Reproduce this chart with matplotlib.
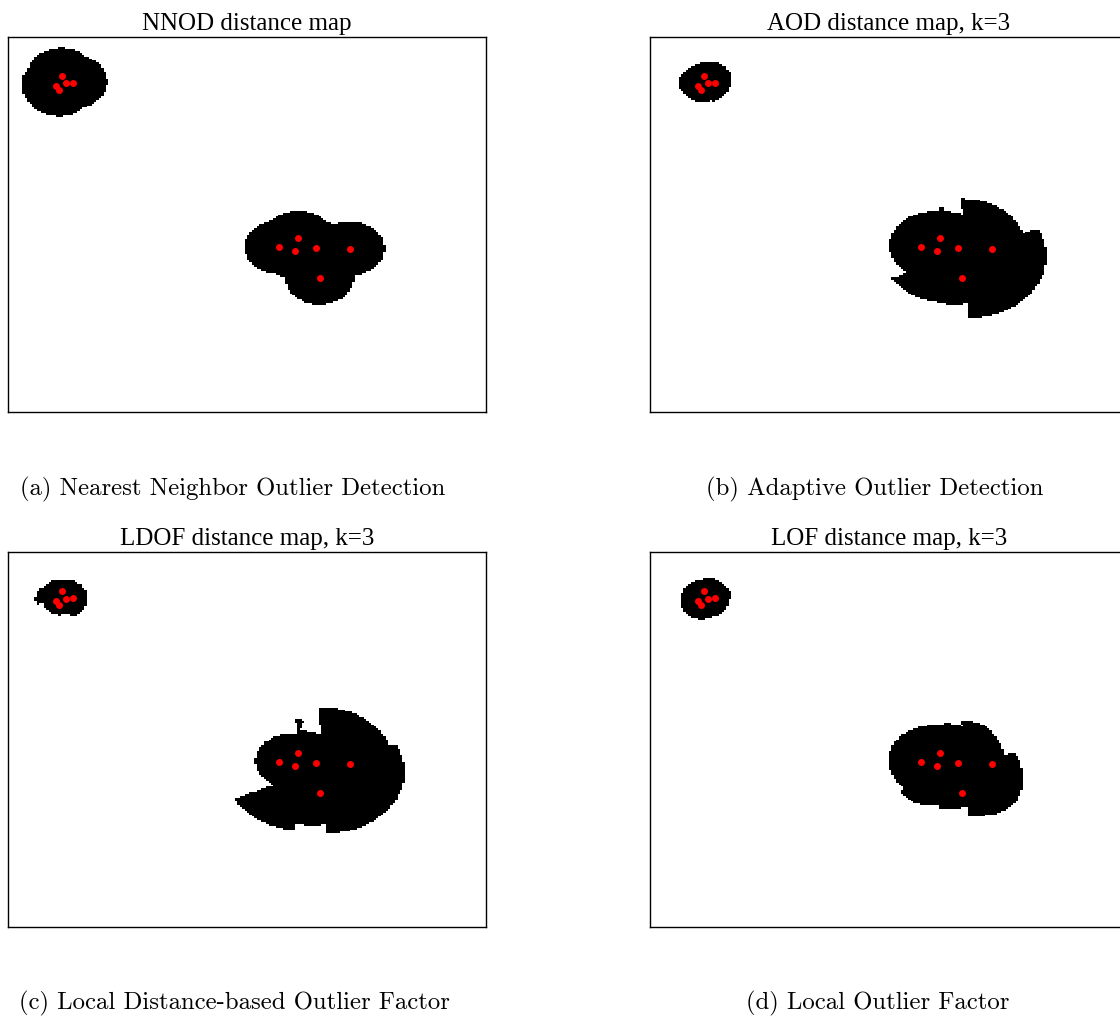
import numpy as np
import matplotlib.pyplot as plt
from matplotlib.colors import ListedColormap

# data points in the unit square (y up): small cluster top-left, larger cluster centre-right
pts_x = [0.112, 0.100, 0.107, 0.121, 0.136, 0.607, 0.567, 0.600, 0.645, 0.716, 0.652]
pts_y = [0.896, 0.869, 0.859, 0.876, 0.878, 0.463, 0.439, 0.429, 0.437, 0.435, 0.358]

k = 3
nnod_thr = 0.072
aod_thr = 2.05
ldof_thr = 1.95
lof_thr = 1.55
max_reach = 0.2   # beyond this nothing is counted as inlier

titles = ['NNOD distance map', 'AOD distance map, k=3',
          'LDOF distance map, k=3', 'LOF distance map, k=3']
captions = ['(a) Nearest Neighbor Outlier Detection', '(b) Adaptive Outlier Detection',
            '(c) Local Distance-based Outlier Factor', '(d) Local Outlier Factor']

# grid of query points
n = 200
g = (np.arange(n) + 0.5) / n
gx, gy = np.meshgrid(g, g)
q = np.c_[gx.ravel(), gy.ravel()]
X = np.c_[pts_x, pts_y]

D = np.sqrt(((q[:, None, :] - X[None, :, :]) ** 2).sum(-1))
P = np.sqrt(((X[:, None, :] - X[None, :, :]) ** 2).sum(-1))
Pn = P + np.diag(np.full(len(X), np.inf))

order = np.argsort(D, axis=1)[:, :k]
dk = np.take_along_axis(D, order, axis=1)

# NNOD
nnod = D.min(axis=1)
near = nnod < max_reach

# data point kNN stats
dorder = np.argsort(Pn, axis=1)[:, :k]
dd = np.take_along_axis(Pn, dorder, axis=1)
kdist = dd[:, -1]
mean_knn = dd.mean(axis=1)

# AOD: mean kNN distance relative to neighbours' mean kNN distance
aod = dk.mean(axis=1) / mean_knn[order].mean(axis=1)

# LDOF
i0, i1, i2 = order[:, 0], order[:, 1], order[:, 2]
inner = (P[i0, i1] + P[i0, i2] + P[i1, i2]) / 3
ldof = dk.mean(axis=1) / inner

# LOF
reach_data = np.maximum(kdist[dorder], dd)
lrd_data = 1 / reach_data.mean(axis=1)
reach_q = np.maximum(kdist[order], dk)
lrd_q = 1 / reach_q.mean(axis=1)
lof = lrd_data[order].mean(axis=1) / lrd_q

masks = [nnod < nnod_thr, (aod < aod_thr) & near,
         (ldof < ldof_thr) & near, (lof < lof_thr) & near]

fig = plt.figure(figsize=(11.2, 10.16), dpi=100)
W, H = 1120, 1016
lefts = [8, 650, 8, 650]
tops = [37, 37, 552, 552]
cap_x = [233, 875, 234, 878]
cap_y = [489, 489, 1003, 1003]
cmap = ListedColormap(['white', 'black'])

for i in range(4):
    ax = fig.add_axes([lefts[i] / W, 1 - (tops[i] + 375) / H, 478 / W, 375 / H])
    ax.imshow(masks[i].reshape(n, n).astype(float), cmap=cmap, vmin=0, vmax=1,
              extent=[0, 1, 0, 1], origin='lower', interpolation='nearest', aspect='auto')
    ax.plot(pts_x, pts_y, 'o', color='red', ms=5, mew=0)
    ax.set_xlim(0, 1); ax.set_ylim(0, 1)
    ax.set_xticks([]); ax.set_yticks([])
    for s in ax.spines.values():
        s.set_linewidth(1.0)
    ax.set_title(titles[i], fontsize=18, family='Liberation Serif', pad=5)
    fig.text(cap_x[i] / W, 1 - cap_y[i] / H, captions[i], ha='center', va='center',
             fontsize=17.8, family='cmr10')

fig.savefig('out.png', dpi=100)
